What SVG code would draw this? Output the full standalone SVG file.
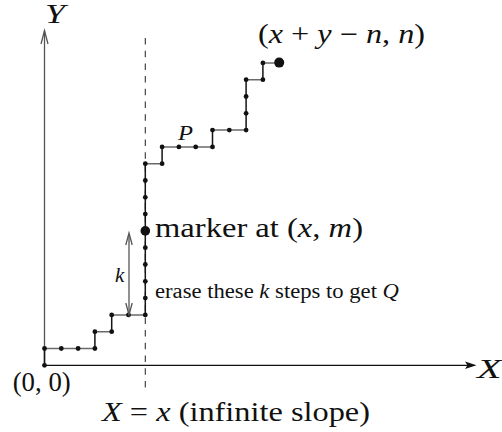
<svg xmlns="http://www.w3.org/2000/svg" width="502" height="432" viewBox="0 0 502 432">
<style>
text{font-family:"Liberation Serif","Times New Roman",serif;fill:#111}
.it{font-style:italic}
.h{stroke:#6a6a6a;stroke-width:1.5;fill:none}
.v{stroke:#151515;stroke-width:1.5;fill:none}
.pt{fill:#111}
.ax{stroke:#111;stroke-width:1.3;fill:none}
.ay{stroke:#555;stroke-width:1.3;fill:none}
</style>
<rect width="502" height="432" fill="#fff"/>
<g id="axes">
<line class="ax" x1="44.5" y1="365.3" x2="468" y2="365.3"/>
<polygon points="476.5,365.3 465,361.6 467.5,365.3 465,369" fill="#111"/>
<line class="ay" x1="44.5" y1="365.3" x2="44.5" y2="31"/>
<polyline class="ay" points="41,44 44.5,30.5 48,44"/>
<line x1="145.3" y1="38" x2="145.3" y2="393" stroke="#333" stroke-width="1.1" stroke-dasharray="6.5,6.2"/>
</g>
<g id="path-segments">
<path class="v" d="M44.5,365.3V348.5M94.9,348.5V331.7M111.7,331.7V314.9M145.3,314.9V163.7M162.1,163.7V146.9M212.5,146.9V130.1M246.1,130.1V79.7M262.9,79.7V62.9"/>
<path class="h" d="M44.5,348.5H94.9M94.9,331.7H111.7M111.7,314.9H145.3M145.3,163.7H162.1M162.1,146.9H212.5M212.5,130.1H246.1M246.1,79.7H262.9M262.9,62.9H279.7"/>
</g>
<g id="lattice-points" class="pt">
<circle cx="44.5" cy="365.3" r="2.4"/>
<circle cx="44.5" cy="348.5" r="2.4"/>
<circle cx="61.3" cy="348.5" r="2.4"/>
<circle cx="78.1" cy="348.5" r="2.4"/>
<circle cx="94.9" cy="348.5" r="2.4"/>
<circle cx="94.9" cy="331.7" r="2.4"/>
<circle cx="111.7" cy="331.7" r="2.4"/>
<circle cx="111.7" cy="314.9" r="2.4"/>
<circle cx="128.5" cy="314.9" r="2.4"/>
<circle cx="145.3" cy="314.9" r="2.4"/>
<circle cx="145.3" cy="298.1" r="2.4"/>
<circle cx="145.3" cy="281.3" r="2.4"/>
<circle cx="145.3" cy="264.5" r="2.4"/>
<circle cx="145.3" cy="247.7" r="2.4"/>
<circle cx="145.3" cy="214.1" r="2.4"/>
<circle cx="145.3" cy="197.3" r="2.4"/>
<circle cx="145.3" cy="180.5" r="2.4"/>
<circle cx="145.3" cy="163.7" r="2.4"/>
<circle cx="162.1" cy="163.7" r="2.4"/>
<circle cx="162.1" cy="146.9" r="2.4"/>
<circle cx="178.9" cy="146.9" r="2.4"/>
<circle cx="195.7" cy="146.9" r="2.4"/>
<circle cx="212.5" cy="146.9" r="2.4"/>
<circle cx="212.5" cy="130.1" r="2.4"/>
<circle cx="229.3" cy="130.1" r="2.4"/>
<circle cx="246.1" cy="130.1" r="2.4"/>
<circle cx="246.1" cy="113.3" r="2.4"/>
<circle cx="246.1" cy="96.5" r="2.4"/>
<circle cx="246.1" cy="79.7" r="2.4"/>
<circle cx="262.9" cy="79.7" r="2.4"/>
<circle cx="262.9" cy="62.9" r="2.4"/>
</g>
<g id="marker">
<circle cx="145.3" cy="230.9" r="4.8" fill="#111"/>
</g>
<g id="endpoint">
<circle cx="279.2" cy="62.6" r="5" fill="#111"/>
</g>
<g id="k-arrow">
<line class="ay" x1="129" y1="234" x2="129" y2="314"/>
<polyline class="ay" points="125.8,245 129,233 132.2,245"/>
<polyline class="ay" points="125.8,303 129,315 132.2,303"/>
</g>
<g id="labels">
<text class="it" x="45" y="23" font-size="27" textLength="20" lengthAdjust="spacingAndGlyphs">Y</text>
<text x="258" y="43" font-size="27" textLength="167" lengthAdjust="spacingAndGlyphs">(<tspan class="it">x</tspan> + <tspan class="it">y</tspan> − <tspan class="it">n</tspan>, <tspan class="it">n</tspan>)</text>
<text class="it" x="178" y="140" font-size="20" textLength="15" lengthAdjust="spacingAndGlyphs">P</text>
<text x="155" y="237" font-size="27" textLength="208" lengthAdjust="spacingAndGlyphs">marker at (<tspan class="it">x</tspan>, <tspan class="it">m</tspan>)</text>
<text class="it" x="115" y="281.5" font-size="21">k</text>
<text x="155" y="298" font-size="20" textLength="244" lengthAdjust="spacingAndGlyphs">erase these <tspan class="it">k</tspan> steps to get <tspan class="it">Q</tspan></text>
<text x="12.7" y="390.5" font-size="27" textLength="58" lengthAdjust="spacingAndGlyphs">(0, 0)</text>
<text class="it" x="477" y="378" font-size="28" textLength="24.5" lengthAdjust="spacingAndGlyphs">X</text>
<text x="102" y="420.5" font-size="27" textLength="268" lengthAdjust="spacingAndGlyphs"><tspan class="it">X</tspan> = <tspan class="it">x</tspan> (infinite slope)</text>
</g>
</svg>
